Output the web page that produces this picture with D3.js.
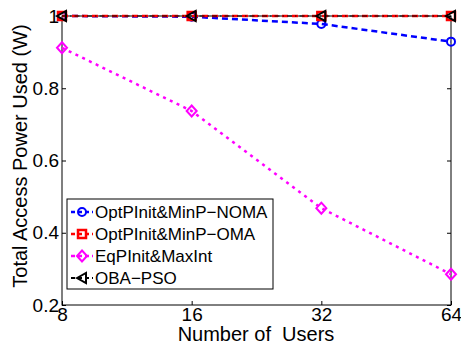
<!DOCTYPE html>
<html lang="en">
<head>
<meta charset="UTF-8" />
<title>Total Access Power Used</title>
<script src="https://d3js.org/d3.v7.min.js"></script>
<style>
  body { margin: 0; background: #fff; }
  text { font-family: "Liberation Sans", Arial, sans-serif; }
</style>
</head>
<body>
<div id="chart"></div>
<script>
// data
const users = [8, 16, 32, 64]
const nomaPower = [1.0, 0.998, 0.978, 0.929]
const omaPower = [1.0, 1.0, 1.0, 1.0]
const eqPower = [0.912, 0.737, 0.468, 0.285]
const psoPower = [1.0, 1.0, 1.0, 1.0]
const yTicks = [0.2, 0.4, 0.6, 0.8, 1]

const width = 461
const height = 345
const margin = { top: 16, right: 10, bottom: 40, left: 62 }

const series = [
    { name: "OptPInit&MinP\u2212NOMA", values: nomaPower, color: "#0000ff", dash: "6,4", marker: "circle" },
    { name: "OptPInit&MinP\u2212OMA", values: omaPower, color: "#ff0000", dash: "6,4", marker: "square" },
    { name: "EqPInit&MaxInt", values: eqPower, color: "#ff00ff", dash: "3,4.5", marker: "diamond" },
    { name: "OBA\u2212PSO", values: psoPower, color: "#000000", dash: "5,3,1.5,3", marker: "triangle" }
]

const x = d3.scaleLog().base(2)
    .domain([8, 64])
    .range([margin.left, width - margin.right])

const y = d3.scaleLinear()
    .domain([0.2, 1])
    .range([height - margin.bottom, margin.top])

const svg = d3.select("#chart").append("svg")
    .attr("width", width)
    .attr("height", height)

// axes, matlab style: ticks pointing in
svg.append("g")
    .attr("transform", `translate(0,${height - margin.bottom})`)
    .call(d3.axisBottom(x).tickValues(users).tickFormat(d3.format("d")).tickSize(-4).tickPadding(2))
    .call(g => g.select(".domain").remove())
    .call(g => g.selectAll("text").attr("font-size", 19).attr("fill", "#000"))

svg.append("g")
    .attr("transform", `translate(${margin.left},0)`)
    .call(d3.axisLeft(y).tickValues(yTicks).tickFormat(d => d === 1 ? "1" : d3.format(".1f")(d)).tickSize(-4).tickPadding(3))
    .call(g => g.select(".domain").remove())
    .call(g => g.selectAll("text").attr("font-size", 19).attr("fill", "#000"))

svg.append("g")
    .attr("transform", `translate(${width - margin.right},0)`)
    .call(d3.axisRight(y).tickValues(yTicks).tickFormat("").tickSize(-4))
    .call(g => g.select(".domain").remove())

svg.append("rect")
    .attr("x", margin.left)
    .attr("y", margin.top)
    .attr("width", width - margin.left - margin.right)
    .attr("height", height - margin.top - margin.bottom)
    .attr("fill", "none")
    .attr("stroke", "#000")
    .attr("stroke-width", 1)

function drawMarker(g, type, color) {
    if (type === "circle") {
        g.append("circle").attr("r", 4)
            .attr("fill", "none").attr("stroke", color).attr("stroke-width", 2)
    } else if (type === "square") {
        g.append("rect").attr("x", -4).attr("y", -4).attr("width", 8).attr("height", 8)
            .attr("fill", "none").attr("stroke", color).attr("stroke-width", 2.5)
    } else if (type === "diamond") {
        g.append("path").attr("d", "M0,-5.5L5,0L0,5.5L-5,0Z")
            .attr("fill", "none").attr("stroke", color).attr("stroke-width", 2)
    } else {
        g.append("path").attr("d", "M-5,0L4,-5L4,5Z")
            .attr("fill", "none").attr("stroke", color).attr("stroke-width", 2)
    }
}

const line = d3.line()
    .x(d => x(d[0]))
    .y(d => y(d[1]))

series.forEach(s => {
    const pts = users.map((u, i) => [u, s.values[i]])
    svg.append("path")
        .datum(pts)
        .attr("d", line)
        .attr("fill", "none")
        .attr("stroke", s.color)
        .attr("stroke-width", s.marker === "triangle" ? 1.2 : 2.5)
        .attr("stroke-dasharray", s.dash)
    pts.forEach(p => {
        const g = svg.append("g").attr("transform", `translate(${x(p[0])},${y(p[1])})`)
        drawMarker(g, s.marker, s.color)
    })
})

// legend
const legend = svg.append("g").attr("transform", "translate(67,199)")
legend.append("rect")
    .attr("width", 206).attr("height", 90)
    .attr("fill", "#fff").attr("stroke", "#000").attr("stroke-width", 1)

series.forEach((s, i) => {
    const row = legend.append("g").attr("transform", `translate(0,${13 + i * 22})`)
    row.append("line")
        .attr("x1", 4).attr("x2", 26)
        .attr("stroke", s.color)
        .attr("stroke-width", s.marker === "triangle" ? 2 : 2.5)
        .attr("stroke-dasharray", "4,3")
    const m = row.append("g").attr("transform", "translate(15,0)")
    drawMarker(m, s.marker, s.color)
    row.append("text")
        .attr("x", 28).attr("y", 6)
        .attr("font-size", 17)
        .text(s.name)
})

// axis titles
svg.append("text")
    .attr("x", 256)
    .attr("y", 341)
    .attr("text-anchor", "middle")
    .attr("font-size", 20)
    .attr("xml:space", "preserve")
    .text("Number of  Users")

svg.append("text")
    .attr("transform", "translate(27,156) rotate(-90)")
    .attr("text-anchor", "middle")
    .attr("font-size", 20)
    .text("Total Access Power Used (W)")
</script>
</body>
</html>
